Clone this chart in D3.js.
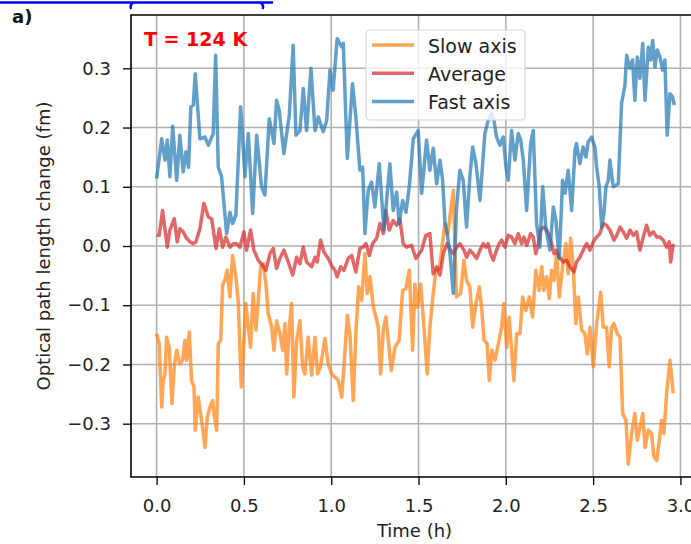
<!DOCTYPE html>
<html>
<head>
<meta charset="utf-8">
<script src="https://cdn.jsdelivr.net/npm/d3@7"></script>
<style>
  body { margin: 0; background: #fff; }
  svg { display: block; font-family: "DejaVu Sans", sans-serif; }
</style>
</head>
<body>
<script>
// values: time (h) and optical path length change (fm)
var fastT = [0.000,0.029,0.048,0.061,0.076,0.092,0.115,0.133,0.152,0.168,0.183,0.196,0.210,0.221,0.248,0.277,0.296,0.324,0.338,0.353,
  0.372,0.401,0.420,0.435,0.454,0.481,0.506,0.525,0.550,0.573,0.601,0.620,0.645,0.672,0.687,0.702,0.729,0.760,0.782,0.798,
  0.821,0.840,0.859,0.884,0.907,0.926,0.954,0.974,0.993,1.011,1.034,1.060,1.069,1.092,1.122,1.141,1.164,1.180,1.193,1.212,
  1.231,1.250,1.275,1.302,1.336,1.355,1.375,1.389,1.409,1.428,1.447,1.470,1.498,1.518,1.546,1.565,1.584,1.604,1.623,1.638,
  1.651,1.664,1.680,1.699,1.718,1.737,1.756,1.775,1.794,1.810,1.829,1.852,1.880,1.899,1.919,1.932,1.947,1.966,1.985,2.001,
  2.014,2.033,2.052,2.071,2.085,2.100,2.119,2.142,2.157,2.176,2.195,2.211,2.230,2.253,2.272,2.287,2.306,2.325,2.339,2.357,
  2.377,2.396,2.405,2.424,2.443,2.459,2.472,2.491,2.510,2.520,2.535,2.549,2.562,2.573,2.587,2.596,2.615,2.644,2.663,2.682,
  2.692,2.711,2.726,2.739,2.753,2.768,2.784,2.797,2.816,2.829,2.841,2.854,2.867,2.883,2.898,2.911,2.924,2.940,2.955,2.965];
var fastV = [0.114,0.181,0.145,0.179,0.117,0.202,0.111,0.187,0.125,0.159,0.133,0.235,0.238,0.291,0.181,0.184,0.170,0.190,0.322,0.133,
  0.117,0.021,0.057,0.038,0.052,0.235,0.117,0.190,0.055,0.187,0.100,0.086,0.215,0.173,0.246,0.229,0.156,0.221,0.339,0.187,
  0.195,0.266,0.195,0.300,0.195,0.218,0.193,0.212,0.297,0.263,0.350,0.336,0.342,0.148,0.274,0.218,0.128,0.133,0.021,0.094,
  0.108,0.066,0.139,0.027,0.139,0.060,0.091,0.038,0.077,0.057,0.100,0.181,0.195,0.089,0.179,0.128,0.165,0.105,0.145,0.111,
  0.041,0.021,-0.013,-0.080,0.066,0.128,0.111,0.032,0.117,0.167,0.139,0.077,0.190,0.212,0.224,0.212,0.184,0.170,0.184,0.133,
  0.111,0.195,0.145,0.190,0.179,0.145,0.060,0.173,0.195,0.038,-0.002,0.100,0.027,-0.007,0.066,0.043,-0.021,0.111,0.089,0.128,
  0.060,0.162,0.173,0.139,0.167,0.150,0.176,0.184,0.167,0.133,0.100,0.032,0.055,0.100,0.111,0.145,0.100,0.105,0.241,0.271,
  0.322,0.300,0.314,0.246,0.319,0.283,0.342,0.246,0.336,0.314,0.347,0.302,0.331,0.319,0.297,0.314,0.187,0.257,0.252,0.238];

var avgT = [0.000,0.015,0.034,0.061,0.076,0.101,0.118,0.133,0.152,0.172,0.191,0.210,0.225,0.248,0.271,0.296,0.315,0.340,0.359,0.378,
  0.397,0.420,0.439,0.458,0.477,0.500,0.515,0.538,0.557,0.582,0.607,0.626,0.649,0.668,0.687,0.706,0.729,0.754,0.779,0.802,
  0.821,0.840,0.859,0.888,0.907,0.920,0.939,0.958,0.983,1.002,1.021,1.034,1.054,1.073,1.097,1.117,1.141,1.164,1.183,1.199,
  1.218,1.237,1.260,1.279,1.298,1.313,1.332,1.355,1.375,1.393,1.412,1.432,1.460,1.485,1.518,1.542,1.565,1.584,1.604,1.623,
  1.642,1.664,1.684,1.699,1.718,1.737,1.760,1.775,1.794,1.813,1.833,1.852,1.871,1.886,1.899,1.913,1.928,1.947,1.962,1.976,
  1.995,2.014,2.033,2.052,2.071,2.090,2.104,2.119,2.142,2.157,2.172,2.186,2.199,2.218,2.234,2.249,2.262,2.276,2.291,2.306,
  2.329,2.348,2.367,2.390,2.405,2.424,2.443,2.463,2.482,2.501,2.520,2.539,2.558,2.577,2.596,2.619,2.635,2.654,2.672,2.692,
  2.711,2.730,2.749,2.768,2.787,2.806,2.825,2.844,2.864,2.883,2.901,2.921,2.936,2.944,2.959];
var avgV = [0.018,0.018,0.060,-0.002,0.027,0.046,0.007,0.029,0.024,0.013,0.007,0.004,0.007,0.029,0.072,0.049,0.046,-0.004,0.029,-0.002,
  0.015,-0.002,0.004,0.004,-0.002,0.024,-0.007,0.027,-0.007,-0.024,-0.033,-0.041,-0.013,-0.004,-0.038,-0.021,-0.007,-0.027,-0.049,-0.019,
  -0.030,-0.002,-0.027,-0.035,-0.019,-0.027,0.010,-0.010,-0.021,-0.033,-0.041,-0.052,-0.035,-0.041,-0.021,-0.016,-0.044,-0.004,-0.002,0.004,
  -0.016,0.004,0.013,0.038,0.021,0.060,0.027,0.043,0.035,0.046,0.004,-0.002,0.001,-0.021,-0.007,0.018,0.021,-0.047,-0.035,-0.049,
  -0.013,0.004,-0.007,-0.013,-0.002,0.004,-0.007,-0.019,-0.007,-0.013,-0.021,-0.007,0.004,-0.002,0.004,-0.013,-0.024,-0.007,0.004,0.010,
  -0.002,0.018,0.015,0.004,0.021,0.004,0.015,0.001,0.021,0.015,-0.013,0.004,0.027,0.032,0.027,0.018,0.004,-0.013,-0.007,-0.019,
  -0.027,-0.024,-0.035,-0.044,-0.027,-0.019,-0.007,0.004,-0.007,0.007,0.015,0.021,0.038,0.035,0.027,0.010,0.018,0.032,0.024,0.013,
  0.027,0.018,0.024,-0.007,0.015,0.035,0.018,0.024,0.015,0.015,0.010,-0.002,0.007,-0.027,0.004];

var slowT = [0.000,0.015,0.029,0.038,0.048,0.057,0.072,0.088,0.101,0.115,0.133,0.149,0.162,0.172,0.187,0.200,0.214,0.221,0.238,0.252,
  0.263,0.277,0.290,0.305,0.321,0.328,0.344,0.353,0.367,0.378,0.391,0.404,0.420,0.435,0.454,0.467,0.485,0.496,0.511,0.525,
  0.538,0.553,0.569,0.582,0.596,0.611,0.626,0.639,0.659,0.672,0.687,0.706,0.722,0.735,0.745,0.760,0.773,0.786,0.802,0.821,
  0.836,0.849,0.868,0.888,0.907,0.922,0.939,0.964,0.983,1.002,1.021,1.040,1.060,1.074,1.092,1.107,1.126,1.141,1.157,1.174,
  1.193,1.206,1.222,1.241,1.256,1.269,1.283,1.298,1.313,1.329,1.344,1.365,1.389,1.409,1.428,1.447,1.466,1.479,1.493,1.512,
  1.531,1.550,1.565,1.584,1.600,1.619,1.651,1.668,1.684,1.699,1.717,1.741,1.760,1.775,1.794,1.810,1.829,1.848,1.861,1.875,
  1.893,1.905,1.920,1.938,1.957,1.976,1.989,2.005,2.019,2.046,2.062,2.081,2.096,2.115,2.134,2.153,2.172,2.191,2.205,2.218,
  2.234,2.249,2.262,2.276,2.291,2.306,2.325,2.344,2.357,2.371,2.386,2.401,2.415,2.434,2.453,2.466,2.482,2.501,2.520,2.543,
  2.558,2.577,2.592,2.606,2.619,2.638,2.654,2.669,2.688,2.701,2.720,2.739,2.753,2.768,2.784,2.797,2.816,2.835,2.848,2.864,
  2.879,2.892,2.905,2.921,2.940,2.959];
var slowV = [-0.148,-0.165,-0.272,-0.227,-0.216,-0.154,-0.171,-0.266,-0.204,-0.176,-0.199,-0.193,-0.159,-0.193,-0.145,-0.227,-0.238,-0.311,-0.255,-0.283,
  -0.306,-0.340,-0.289,-0.272,-0.261,-0.283,-0.311,-0.165,-0.159,-0.066,-0.058,-0.041,-0.086,-0.016,-0.052,-0.092,-0.238,-0.182,-0.097,-0.137,
  -0.171,-0.080,-0.142,-0.092,-0.035,-0.030,-0.064,-0.114,-0.137,-0.176,-0.126,-0.148,-0.176,-0.131,-0.216,-0.137,-0.097,-0.255,-0.159,-0.126,
  -0.204,-0.216,-0.154,-0.218,-0.154,-0.216,-0.204,-0.156,-0.199,-0.216,-0.221,-0.227,-0.255,-0.199,-0.117,-0.148,-0.261,-0.148,-0.069,-0.092,
  -0.013,-0.080,-0.052,-0.103,-0.120,-0.137,-0.216,-0.142,-0.120,-0.165,-0.210,-0.171,-0.159,-0.075,-0.072,-0.041,-0.176,-0.064,-0.103,-0.064,
  -0.137,-0.216,-0.137,-0.080,-0.041,-0.038,0.038,0.020,0.060,0.094,-0.086,-0.080,-0.024,-0.058,-0.069,-0.137,-0.097,-0.069,-0.103,-0.159,
  -0.165,-0.227,-0.176,-0.193,-0.165,-0.137,-0.097,-0.171,-0.120,-0.227,-0.148,-0.148,-0.086,-0.109,-0.086,-0.120,-0.041,-0.075,-0.035,-0.075,
  -0.052,-0.089,-0.041,-0.058,-0.013,-0.086,-0.035,0.004,-0.047,0.013,-0.035,-0.131,-0.086,-0.142,-0.148,-0.182,-0.137,-0.204,-0.131,-0.078,
  -0.137,-0.137,-0.204,-0.137,-0.131,-0.148,-0.154,-0.283,-0.294,-0.368,-0.317,-0.283,-0.328,-0.306,-0.283,-0.340,-0.311,-0.317,-0.356,-0.362,
  -0.328,-0.294,-0.317,-0.249,-0.193,-0.249];

var seriesNames = ["Slow axis", "Average", "Fast axis"];
var seriesColors = ["#ff7f0e", "#d62728", "#1f77b4"];
var xTicks = [0, 0.5, 1, 1.5, 2, 2.5, 3];
var yTicks = [-0.3, -0.2, -0.1, 0, 0.1, 0.2, 0.3];

var width = 691,
    height = 544;

var svg = d3.select("body").append("svg")
    .attr("width", width)
    .attr("height", height);

var x = d3.scaleLinear().domain([-0.145, 3.1]).range([131.3, 697.9]);
var y = d3.scaleLinear().domain([-0.39, 0.39]).range([477, 15]);

// grid
svg.append("g").selectAll("line").data(xTicks).enter().append("line")
    .attr("x1", d => x(d)).attr("x2", d => x(d))
    .attr("y1", 15).attr("y2", 477)
    .attr("stroke", "#b0b0b0").attr("stroke-width", 1.6);
svg.append("g").selectAll("line").data(yTicks).enter().append("line")
    .attr("x1", 131).attr("x2", width)
    .attr("y1", d => y(d)).attr("y2", d => y(d))
    .attr("stroke", "#b0b0b0").attr("stroke-width", 1.6);

// lines
var series = [
  {t: slowT, v: slowV},
  {t: avgT, v: avgV},
  {t: fastT, v: fastV}
];
var line = d3.line()
    .x(d => x(d[0]))
    .y(d => y(d[1]));

series.forEach(function(s, i) {
  svg.append("path")
      .datum(s.t.map((t, j) => [t, s.v[j]]))
      .attr("d", line)
      .attr("fill", "none")
      .attr("stroke", seriesColors[i])
      .attr("stroke-opacity", 0.7)
      .attr("stroke-width", 3.5)
      .attr("stroke-linejoin", "round");
});

// axes
var fmt = d3.format(".1f");
var xAxis = svg.append("g")
    .attr("transform", "translate(0,477)")
    .call(d3.axisBottom(x).tickValues(xTicks).tickFormat(fmt).tickSize(8).tickPadding(14).tickSizeOuter(0));
var yAxis = svg.append("g")
    .attr("transform", "translate(131,0)")
    .call(d3.axisLeft(y).tickValues(yTicks).tickFormat(fmt).tickSize(8).tickPadding(12).tickSizeOuter(0));
[xAxis, yAxis].forEach(function(a) {
  a.select(".domain").remove();
  a.selectAll("line").attr("stroke", "#000").attr("stroke-width", 1.3);
  a.selectAll("text").attr("font-size", 18).attr("fill", "#222").attr("font-family", "DejaVu Sans");
});

// frame (left, top, bottom spines)
svg.append("path")
    .attr("d", "M" + width + ",15H131V477H" + width)
    .attr("fill", "none").attr("stroke", "#000").attr("stroke-width", 1.6);

svg.append("text")
    .attr("x", 414.5).attr("y", 537)
    .attr("text-anchor", "middle").attr("font-size", 18).attr("fill", "#222")
    .text("Time (h)");
svg.append("text")
    .attr("transform", "translate(50," + y(0) + ") rotate(-90)")
    .attr("text-anchor", "middle").attr("font-size", 18).attr("fill", "#222")
    .text("Optical path length change (fm)");

svg.append("text")
    .attr("x", 144).attr("y", 46)
    .attr("font-size", 19).attr("font-weight", "bold").attr("fill", "red")
    .text("T = 124 K");
svg.append("text")
    .attr("x", 12).attr("y", 23)
    .attr("font-size", 18).attr("font-weight", "bold").attr("fill", "#111")
    .text("a)");

// blue bracket cut off at the top
svg.append("path")
    .attr("d", "M0,2.5H273M133.5,2.5Q129.5,5 131,9M260,2.5Q264.5,5 262.5,9")
    .attr("fill", "none").attr("stroke", "blue").attr("stroke-width", 2.4);

// legend
var legend = svg.append("g");
legend.append("rect")
    .attr("x", 366).attr("y", 30).attr("width", 159).attr("height", 90)
    .attr("rx", 4).attr("fill", "#fff").attr("fill-opacity", 0.8)
    .attr("stroke", "#d6d6d6").attr("stroke-width", 1.2);
seriesNames.forEach(function(name, i) {
  var ly = 45 + i * 28.2;
  legend.append("line")
      .attr("x1", 372).attr("x2", 414).attr("y1", ly).attr("y2", ly)
      .attr("stroke", seriesColors[i]).attr("stroke-opacity", 0.7).attr("stroke-width", 3.5);
  legend.append("text")
      .attr("x", 428).attr("y", ly + 7.5)
      .attr("font-size", 19).attr("fill", "#222")
      .text(name);
});
</script>
</body>
</html>
